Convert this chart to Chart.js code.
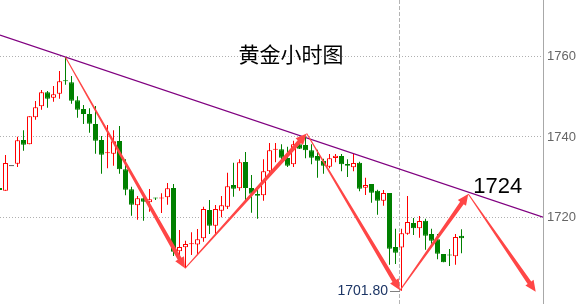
<!DOCTYPE html>
<html>
<head>
<meta charset="utf-8">
<script src="https://cdn.jsdelivr.net/npm/chart.js@4.4.0/dist/chart.umd.min.js"></script>
<style>
html,body{margin:0;padding:0;background:#fff;overflow:hidden}
canvas{display:block}
</style>
</head>
<body>
<canvas id="c" width="577" height="304"></canvas>
<script>
// ---------- data ----------
const firstSlot = -1; // slot index of the first (partially visible) candle
const opens  = [1727.33,1726.66,1732.72,1733.37,1739.26,1738.19,1744.89,1747.63,1751.11,1749.76,
                1750.76,1753.91,1753.59,1749.12,1746.96,1745.71,1743.23,1739.26,1735.95,1735.85,
                1739.01,1731.98,1727.01,1723.03,1724.77,1723.78,1724.77,1724.72,1725.02,1727.33,
                1711.60,1712.60,1713.34,1713.29,1714.83,1721.86,1717.96,1721.69,1722.68,1728.07,
                1727.25,1733.79,1727.33,1725.84,1725.52,1731.48,1736.85,1736.94,1734.78,1733.22,
                1738.19,1738.01,1736.70,1735.28,1734.11,1732.62,1734.78,1735.28,1733.29,1732.47,
                1733.62,1727.40,1728.32,1726.66,1724.17,1726.09,1712.67,1712.55,1715.98,1718.63,
                1717.32,1719.20,1715.90,1714.58,1710.93,1710.61,1710.36,1715.48];
const highs  = [1727.33,1735.53,1732.72,1740.07,1741.67,1745.14,1748.94,1751.68,1751.43,1752.67,
                1756.40,1759.88,1755.16,1750.11,1747.95,1747.13,1747.70,1740.25,1742.98,1741.67,
                1742.73,1734.46,1727.65,1725.34,1725.34,1727.08,1724.90,1726.01,1728.57,1728.32,
                1716.89,1714.24,1716.32,1717.14,1722.68,1724.35,1723.11,1725.34,1731.13,1733.61,
                1734.46,1736.27,1730.56,1727.01,1734.46,1738.51,1738.51,1738.19,1737.59,1739.08,
                1740.07,1740.17,1738.19,1736.85,1734.61,1735.78,1735.78,1735.78,1734.46,1735.78,
                1733.86,1729.89,1728.32,1726.91,1726.83,1726.09,1717.22,1717.22,1725.34,1719.88,
                1720.37,1719.70,1717.22,1715.90,1710.93,1712.17,1715.90,1717.07];
const lows   = [1726.83,1726.66,1732.72,1732.55,1736.60,1738.19,1744.30,1746.78,1747.28,1748.77,
                1749.52,1752.99,1748.27,1744.80,1743.23,1741.07,1735.85,1730.88,1732.22,1732.87,
                1730.88,1725.52,1720.45,1719.45,1719.20,1721.44,1724.35,1721.12,1723.18,1710.43,
                1708.94,1707.45,1710.68,1710.86,1713.99,1715.90,1715.65,1720.05,1722.11,1725.17,
                1726.66,1724.17,1721.19,1719.70,1724.17,1730.14,1733.71,1734.29,1732.55,1732.55,
                1737.02,1734.71,1733.22,1729.89,1730.88,1732.22,1733.71,1731.48,1730.06,1731.48,
                1726.51,1725.59,1723.68,1720.70,1722.93,1708.27,1708.45,1701.80,1715.73,1715.65,
                1714.98,1712.00,1713.49,1709.61,1708.87,1707.95,1708.27,1711.11];
const closes = [1726.83,1733.54,1732.72,1739.18,1738.09,1745.14,1747.38,1751.11,1749.52,1750.61,
                1753.84,1753.86,1749.02,1746.78,1745.71,1743.30,1739.08,1735.60,1736.00,1738.93,
                1731.98,1726.91,1723.18,1724.77,1723.93,1724.52,1724.72,1724.77,1727.25,1711.50,
                1712.67,1713.42,1713.39,1714.61,1722.11,1717.96,1722.11,1723.03,1727.75,1727.16,
                1733.71,1727.33,1725.91,1725.42,1731.48,1736.70,1736.90,1734.86,1732.87,1738.19,
                1737.09,1736.70,1734.86,1734.11,1732.87,1734.71,1735.35,1733.22,1732.87,1733.54,
                1727.16,1728.07,1726.16,1724.17,1726.09,1712.25,1711.25,1716.07,1718.88,1717.32,
                1719.13,1715.48,1714.24,1711.01,1708.87,1710.56,1715.16,1714.83];

const yTickValues = [1720, 1740, 1760];
const sessionBreaks = [65.6667];

// trend line (slot index, price)
const trendX = [-0.9167, 89.5833];
const trendY = [1765.34, 1720.07];

// red arrow path waypoints (slot index, price)
const arrowX = [10, 29.92, 50.2, 65.75, 77.13, 88.37];
const arrowY = [1759.8, 1707.38, 1740.87, 1701.9, 1725.84, 1701.56];

const titleText = '黄金小时图';
const targetText = '1724';
const lowText = '1701.80';
const lowSlot = 66;
const lowValue = 1701.80;

// ---------- chart ----------
const slots = opens.map((_, k) => firstSlot + k);
const UP = '#ff0000', DOWN = '#008000', FLAT = '#000000';
function candleColor(k) {
  return closes[k] > opens[k] ? UP : (closes[k] < opens[k] ? DOWN : FLAT);
}

const overlay = {
  id: 'overlay',
  afterDatasetsDraw(chart) {
    const ctx = chart.ctx, xs = chart.scales.x, ys = chart.scales.y;
    ctx.save();
    ctx.fillStyle = '#ff4646';
    for (let i = 0; i + 1 < arrowX.length; i++) {
      const x1 = xs.getPixelForValue(arrowX[i]), y1 = ys.getPixelForValue(arrowY[i]);
      const x2 = xs.getPixelForValue(arrowX[i + 1]), y2 = ys.getPixelForValue(arrowY[i + 1]);
      const dx = x2 - x1, dy = y2 - y1, len = Math.hypot(dx, dy);
      const ux = dx / len, uy = dy / len, nx = -uy, ny = ux;
      const headL = 11, headW = 5, w0 = 0.5, w1 = 2.2;
      const bx = x2 - ux * headL, by = y2 - uy * headL;
      ctx.beginPath();
      ctx.moveTo(x1 + nx * w0, y1 + ny * w0);
      ctx.lineTo(bx + nx * w1, by + ny * w1);
      ctx.lineTo(bx + nx * headW, by + ny * headW);
      ctx.lineTo(x2, y2);
      ctx.lineTo(bx - nx * headW, by - ny * headW);
      ctx.lineTo(bx - nx * w1, by - ny * w1);
      ctx.lineTo(x1 - nx * w0, y1 - ny * w0);
      ctx.closePath();
      ctx.fill();
    }
    ctx.restore();
  },
  afterDraw(chart) {
    const ctx = chart.ctx, xs = chart.scales.x, ys = chart.scales.y;
    ctx.save();
    // title
    ctx.fillStyle = '#000';
    ctx.font = '21px "Noto Sans CJK SC"';
    ctx.textAlign = 'center';
    ctx.textBaseline = 'middle';
    ctx.fillText(titleText, 291, 54.5);
    // target label near the 4th arrow tip
    const tx = xs.getPixelForValue(arrowX[4]), ty = ys.getPixelForValue(arrowY[4]);
    ctx.font = '22px "Liberation Sans", Arial, sans-serif';
    ctx.textAlign = 'left';
    ctx.textBaseline = 'alphabetic';
    ctx.fillText(targetText, tx + 5, ty - 0.7);
    // low label
    const lx = xs.getPixelForValue(lowSlot), ly = ys.getPixelForValue(lowValue);
    const lyA = Math.round(ly) + 0.5;
    ctx.strokeStyle = '#808080';
    ctx.lineWidth = 1;
    ctx.beginPath();
    ctx.moveTo(lx - 11.5, lyA);
    ctx.lineTo(lx - 1.5, lyA);
    ctx.stroke();
    ctx.fillStyle = '#1c3565';
    ctx.font = '14px "Liberation Sans", Arial, sans-serif';
    ctx.textAlign = 'right';
    ctx.textBaseline = 'middle';
    ctx.fillText(lowText, lx - 13.5, ly);
    ctx.restore();
  }
};

new Chart(document.getElementById('c'), {
  type: 'bar',
  data: {
    datasets: [
      {
        type: 'bar', label: 'body', order: 1,
        data: slots.map((x, k) => ({ x, y: [opens[k], closes[k]] })),
        barThickness: 5, grouped: false, borderWidth: 1, borderSkipped: false,
        inflateAmount: 0, minBarLength: 1,
        backgroundColor: c => closes[c.dataIndex] > opens[c.dataIndex] ? '#ffffff' : candleColor(c.dataIndex),
        borderColor: c => candleColor(c.dataIndex)
      },
      {
        type: 'bar', label: 'wick', order: 2,
        data: slots.map((x, k) => ({ x, y: [lows[k], highs[k]] })),
        barThickness: 1, grouped: false, borderWidth: 0, inflateAmount: 0,
        backgroundColor: c => candleColor(c.dataIndex)
      },
      {
        type: 'line', label: 'trend', order: 3,
        data: trendX.map((x, k) => ({ x, y: trendY[k] })),
        borderColor: '#800080', borderWidth: 1.3, pointRadius: 0, tension: 0
      }
    ]
  },
  options: {
    responsive: false,
    animation: false,
    devicePixelRatio: 1,
    layout: { padding: 0 },
    plugins: { legend: { display: false }, tooltip: { enabled: false }, title: { display: false } },
    scales: {
      x: {
        type: 'linear', position: 'bottom',
        min: -11 / 12, max: 89 + 7 / 12,
        offset: false,
        grid: { offset: false, color: '#b4b4b4', lineWidth: 1, drawTicks: false },
        border: { display: false, dash: [4, 2] },
        ticks: { display: false },
        afterBuildTicks: s => { s.ticks = sessionBreaks.map(v => ({ value: v })); },
        afterFit: s => { s.height = 0; s.paddingLeft = 0; s.paddingRight = 0; }
      },
      y: {
        type: 'linear', position: 'right',
        min: 1698.509, max: 1774.037,
        grid: { color: '#b0b0b0', lineWidth: 1, drawTicks: false },
        border: { display: true, color: '#a8a8a8', width: 1, dash: [1, 2] },
        ticks: {
          padding: 4, color: '#666666',
          font: { family: '"Liberation Sans", Arial, sans-serif', size: 13 },
          callback: v => String(v)
        },
        afterBuildTicks: s => { s.ticks = yTickValues.map(v => ({ value: v })); },
        afterFit: s => { s.width = 34; s.paddingTop = 0; s.paddingBottom = 0; }
      }
    }
  },
  plugins: [overlay]
});
</script>
</body>
</html>
